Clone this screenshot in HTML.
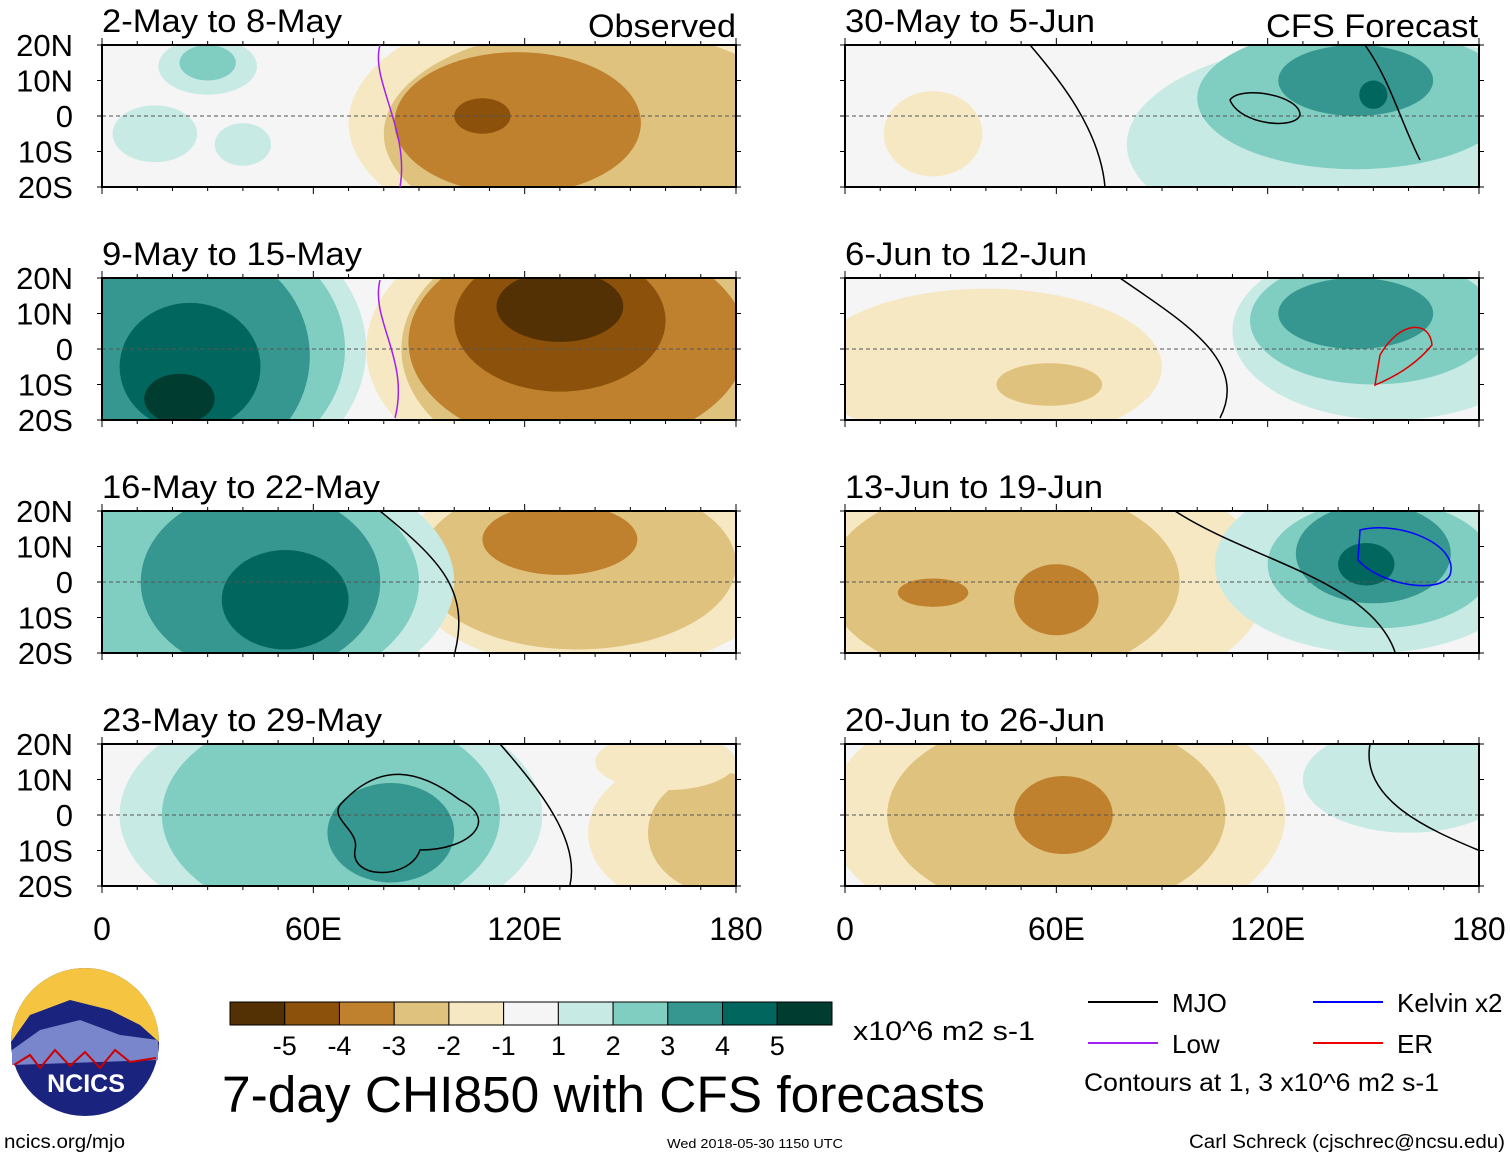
<!DOCTYPE html>
<html><head><meta charset="utf-8"><style>
body{margin:0;background:#fff;font-family:"Liberation Sans",sans-serif}
svg{display:block}
</style></head><body>
<svg id="c" width="1510" height="1158" xmlns="http://www.w3.org/2000/svg" font-family="Liberation Sans, sans-serif"></svg>
<script>
const levelColors=["#543005","#8c510a","#bf812d","#dfc27d","#f6e8c3","#f5f5f5","#c7eae5","#80cdc1","#35978f","#01665e","#003c30"];
const levelLabels=["-5","-4","-3","-2","-1","1","2","3","4","5"];
const panelTitles=["2-May to 8-May","9-May to 15-May","16-May to 22-May","23-May to 29-May","30-May to 5-Jun","6-Jun to 12-Jun","13-Jun to 19-Jun","20-Jun to 26-Jun"];
const titleWidths=[240,260,278,280,250,242,258,260];
const latTicks=[20,10,0,-10,-20];
const latLabels=["20N","10N","0","10S","20S"];
const lonTicks=[0,60,120,180];
const lonLabels=["0","60E","120E","180"];
// blobs: [lonCenter, latCenter, lonRadius, latRadius, colorIndex]
const blobs=[
[[135,-2,65,34,4],[140,-5,60,30,3],[118,-2,35,20,2],[108,0,8,5,1],[30,14,14,8,6],[30,15,8,5,7],[40,-8,8,6,6],[15,-5,12,8,6]],
[[140,0,65,40,4],[140,0,55,36,3],[135,2,48,30,2],[130,8,30,20,1],[130,12,18,10,0],[25,0,50,40,6],[25,0,44,36,7],[25,-2,34,32,8],[25,-5,20,18,9],[22,-14,10,7,10]],
[[140,5,55,30,4],[135,5,45,24,3],[130,12,22,10,2],[40,0,60,35,6],[40,0,50,32,7],[45,0,34,26,8],[52,-5,18,14,9]],
[[65,0,60,34,6],[65,0,48,30,7],[82,-5,18,14,8],[170,-5,32,22,4],[175,-5,20,17,3],[160,15,20,8,4]],
[[150,-8,70,30,6],[145,5,45,20,7],[145,10,22,10,8],[150,6,4,4,9],[25,-5,14,12,4]],
[[40,-5,50,22,4],[60,-10,28,10,4],[58,-10,15,6,3],[155,5,45,25,6],[150,8,35,18,7],[145,10,22,10,8]],
[[50,0,70,36,4],[45,0,50,28,3],[60,-5,12,10,2],[25,-3,10,4,2],[150,5,45,25,6],[152,5,32,18,7],[150,8,22,14,8],[148,5,8,6,9]],
[[60,0,65,36,4],[60,0,48,28,3],[62,0,14,11,2],[160,10,30,15,6]]
];
const S="http://www.w3.org/2000/svg";
const svg=document.getElementById('c');
function el(t,a,p){const e=document.createElementNS(S,t);for(const k in a)e.setAttribute(k,a[k]);(p||svg).appendChild(e);return e;}
const colX=[102,845],rowY=[45,278,511,744],PW=634,PH=142;
const defs=el('defs',{});
panelTitles.forEach((title,i)=>{
 const c=i<4?0:1,r=i%4,x0=colX[c],y0=rowY[r];
 const lx=lon=>x0+lon/180*PW, ly=lat=>y0+(20-lat)/40*PH;
 const cp=el('clipPath',{id:'cp'+i},defs);
 el('rect',{x:x0,y:y0,width:PW,height:PH},cp);
 const g=el('g',{});
 
 
 el('rect',{x:x0,y:y0,width:PW,height:PH,fill:levelColors[5]},g);
 const bg=el('g',{'clip-path':'url(#cp'+i+')'},g);
 blobs[i].forEach(b=>{
  const e=el('ellipse',{cx:lx(b[0]),cy:ly(b[1]),rx:b[2]/180*PW,ry:b[3]/40*PH,fill:levelColors[b[4]]},bg);
  
  
 });
 el('line',{x1:x0,x2:x0+PW,y1:ly(0),y2:ly(0),stroke:'#555','stroke-dasharray':'4,3','stroke-width':1},g);
 el('rect',{x:x0,y:y0,width:PW,height:PH,fill:'none',stroke:'#000','stroke-width':2},g);
 for(let l=0;l<=180;l+=10){const h=l%60==0?7:4;el('line',{x1:lx(l),x2:lx(l),y1:y0,y2:y0-h,stroke:'#000'},g);el('line',{x1:lx(l),x2:lx(l),y1:y0+PH,y2:y0+PH+h,stroke:'#000'},g);}
 latTicks.forEach(t=>{el('line',{x1:x0,x2:x0-5,y1:ly(t),y2:ly(t),stroke:'#000'},g);el('line',{x1:x0+PW,x2:x0+PW+5,y1:ly(t),y2:ly(t),stroke:'#000'},g);});
 const tt=el('text',{x:x0,y:y0-13,'font-size':32,textLength:titleWidths[i],lengthAdjust:'spacingAndGlyphs'},g);tt.textContent=title;
 
 if(c==0){latTicks.forEach((t,k)=>{const tx=el('text',{x:73,y:ly(t)+11,'font-size':31,'text-anchor':'end'},g);tx.textContent=latLabels[k];});}
});
const o=el('text',{x:736,y:37,'font-size':32,'text-anchor':'end',textLength:148,lengthAdjust:'spacingAndGlyphs'});o.textContent='Observed';

const f=el('text',{x:1478,y:37,'font-size':32,'text-anchor':'end',textLength:212,lengthAdjust:'spacingAndGlyphs'});f.textContent='CFS Forecast';

colX.forEach(x0=>lonTicks.forEach((t,k)=>{const tx=el('text',{x:x0+t/180*PW,y:940,'font-size':32,'text-anchor':'middle'});tx.textContent=lonLabels[k];
 }));
// contours (approx)
el('path',{d:'M1230,100 C1240,85 1300,95 1300,115 C1295,130 1240,125 1230,100Z',fill:'none',stroke:'#000','stroke-width':1.5});
el('path',{d:'M1360,530 C1400,520 1460,545 1450,575 C1440,595 1380,585 1358,560Z',fill:'none',stroke:'#00f','stroke-width':1.5});
el('path',{d:'M340,805 C380,760 420,770 460,800 C500,820 470,850 420,850 C410,880 350,880 355,850 C360,830 330,820 340,805Z',fill:'none',stroke:'#000','stroke-width':1.5});
el('path',{d:'M1380,355 C1400,320 1430,320 1432,345 C1420,360 1400,375 1375,385Z',fill:'none',stroke:'#d00','stroke-width':1.5});
el('path',{d:'M380,280 C370,320 410,360 395,418',fill:'none',stroke:'#a020f0','stroke-width':1.5});
el('path',{d:'M380,45 C370,80 410,130 400,187',fill:'none',stroke:'#a020f0','stroke-width':1.5});
el('path',{d:'M1030,45 C1060,80 1100,130 1105,187',fill:'none',stroke:'#000','stroke-width':1.5});
el('path',{d:'M1365,45 C1390,80 1400,120 1420,160',fill:'none',stroke:'#000','stroke-width':1.5});
el('path',{d:'M1120,278 C1180,320 1250,360 1220,418',fill:'none',stroke:'#000','stroke-width':1.5});
el('path',{d:'M1175,511 C1250,560 1370,580 1395,652',fill:'none',stroke:'#000','stroke-width':1.5});
el('path',{d:'M1370,744 C1360,800 1430,830 1478,850',fill:'none',stroke:'#000','stroke-width':1.5});
el('path',{d:'M380,511 C440,560 470,590 455,652',fill:'none',stroke:'#000','stroke-width':1.5});
el('path',{d:'M500,744 C540,790 580,840 570,885',fill:'none',stroke:'#000','stroke-width':1.5});
// colorbar
const cb=el('g',{});
const cbx=230,cbw=602/levelColors.length;
levelColors.forEach((col,k)=>el('rect',{x:cbx+k*cbw,y:1002,width:cbw,height:23,fill:col,stroke:'#000'},cb));
levelLabels.forEach((l,k)=>{const t=el('text',{x:cbx+(k+1)*cbw,y:1055,'font-size':27,'text-anchor':'middle'},cb);t.textContent=l;});
const u=el('text',{x:853,y:1040,'font-size':27,textLength:182,lengthAdjust:'spacingAndGlyphs'},cb);u.textContent='x10^6 m2 s-1';
const ti=el('text',{x:222,y:1112,'font-size':51,textLength:763,lengthAdjust:'spacingAndGlyphs'},null);ti.textContent='7-day CHI850 with CFS forecasts';

// legend
const lg=el('g',{});
[[1088,1002,'#000','MJO'],[1088,1043,'#a020f0','Low'],[1313,1002,'#00f','Kelvin x2'],[1313,1043,'#e00','ER']].forEach(a=>{
 el('line',{x1:a[0],x2:a[0]+70,y1:a[1],y2:a[1],stroke:a[2],'stroke-width':2},lg);
 const t=el('text',{x:a[0]+84,y:a[1]+10,'font-size':26},lg);t.textContent=a[3];});
const ct=el('text',{x:1084,y:1091,'font-size':25,textLength:355,lengthAdjust:'spacingAndGlyphs'},lg);ct.textContent='Contours at 1, 3 x10^6 m2 s-1';
// logo
const lo=el('g',{});
el('circle',{cx:85,cy:1042,r:74,fill:'#1a237e'},lo);
el('path',{d:'M11,1042 A74,74 0 0 1 159,1042 L140,1025 L110,1010 L70,1000 L30,1015Z',fill:'#f5c542'},lo);
el('path',{d:'M12,1050 L40,1030 L80,1020 L120,1035 L158,1040 L158,1060 L12,1065Z',fill:'#7986cb'},lo);
el('path',{d:'M14,1065 L30,1055 L40,1068 L55,1050 L70,1066 L85,1052 L100,1068 L115,1050 L130,1062 L156,1058',fill:'none',stroke:'#c00','stroke-width':2},lo);
const nt=el('text',{x:86,y:1092,'font-size':25,'font-weight':'bold',fill:'#fff','text-anchor':'middle'},lo);nt.textContent='NCICS';
const u1=el('text',{x:4,y:1148,'font-size':19,textLength:121,lengthAdjust:'spacingAndGlyphs'},null);u1.textContent='ncics.org/mjo';
const u2=el('text',{x:755,y:1148,'font-size':13,'text-anchor':'middle',textLength:176,lengthAdjust:'spacingAndGlyphs'},null);u2.textContent='Wed 2018-05-30 1150 UTC';
const u3=el('text',{x:1505,y:1148,'font-size':19,'text-anchor':'end',textLength:316,lengthAdjust:'spacingAndGlyphs'},null);u3.textContent='Carl Schreck (cjschrec@ncsu.edu)';
</script>
</body></html>
